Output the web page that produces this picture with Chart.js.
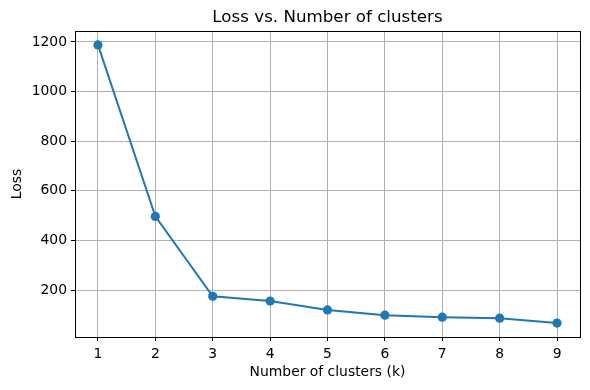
<!DOCTYPE html>
<html>
<head>
<meta charset="utf-8">
<script src="https://cdn.jsdelivr.net/npm/chart.js@4"></script>
<style>
  body { margin: 0; background: #fff; }
</style>
</head>
<body>
<canvas id="lossChart" width="590" height="390"></canvas>
<script>
// ============ DATA ============
const kValues = [1, 2, 3, 4, 5, 6, 7, 8, 9];
const lossValues = [1188, 497, 175, 156, 120, 99, 91, 87, 67];
const xTicks = [1, 2, 3, 4, 5, 6, 7, 8, 9];
const yTicks = [200, 400, 600, 800, 1000, 1200];

const FONT = "'DejaVu Sans', sans-serif";
const BLUE = "#1f77b4";

// title centred over the plot area + black frame, like matplotlib
const framePlugin = {
  id: "frame",
  afterDraw(chart) {
    const { ctx, chartArea: a } = chart;
    ctx.save();
    ctx.strokeStyle = "#000";
    ctx.lineWidth = 1;
    ctx.strokeRect(Math.round(a.left) + 0.5, Math.round(a.top) + 0.5,
      Math.round(a.right - a.left), Math.round(a.bottom - a.top));
    ctx.fillStyle = "#000";
    ctx.font = `16.7px ${FONT}`;
    ctx.textAlign = "center";
    ctx.textBaseline = "alphabetic";
    ctx.fillText("Loss vs. Number of clusters", (a.left + a.right) / 2, 22);
    ctx.restore();
  }
};

const ctx = document.getElementById("lossChart").getContext("2d");
new Chart(ctx, {
  type: "line",
  data: {
    datasets: [{
      data: kValues.map((k, i) => ({ x: k, y: lossValues[i] })),
      borderColor: BLUE,
      backgroundColor: BLUE,
      borderWidth: 2,
      pointRadius: 4.6,
      pointBackgroundColor: BLUE,
      pointBorderWidth: 0,
      tension: 0,
    }]
  },
  options: {
    responsive: false,
    animation: false,
    layout: { padding: { top: 31, right: 10, left: 0, bottom: 0 } },
    plugins: {
      legend: { display: false },
      tooltip: { enabled: false },
    },
    scales: {
      x: {
        type: "linear",
        min: 0.6,
        max: 9.4,
        afterBuildTicks: (axis) => { axis.ticks = xTicks.map(v => ({ value: v })); },
        afterFit: (scale) => { scale.height = 53; },
        grid: { color: "#b0b0b0", lineWidth: 1, tickLength: 4, tickColor: "#000" },
        border: { display: false },
        ticks: { color: "#000", font: { family: FONT, size: 13.9 }, padding: 5, maxRotation: 0,
          callback: (v) => String(v) },
        title: { display: true, text: "Number of clusters (k)", color: "#000",
          font: { family: FONT, size: 13.9 }, padding: { top: 9, bottom: 9 } },
      },
      y: {
        type: "linear",
        min: 11,
        max: 1244,
        afterBuildTicks: (axis) => { axis.ticks = yTicks.map(v => ({ value: v })); },
        afterFit: (scale) => { scale.width = 75; },
        grid: { color: "#b0b0b0", lineWidth: 1, tickLength: 4, tickColor: "#000" },
        border: { display: false },
        ticks: { color: "#000", font: { family: FONT, size: 13.9 }, padding: 4,
          callback: (v) => String(v) },
        title: { display: true, text: "Loss", color: "#000",
          font: { family: FONT, size: 13.9 }, padding: { top: 9, bottom: 9 } },
      }
    }
  },
  plugins: [framePlugin]
});
</script>
</body>
</html>
